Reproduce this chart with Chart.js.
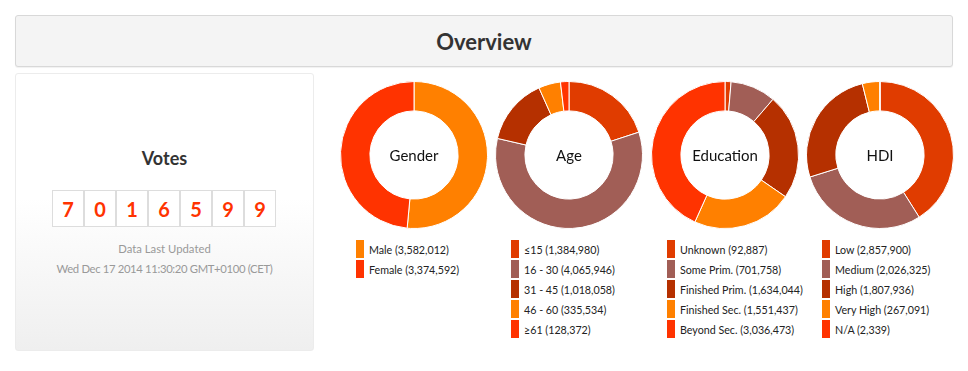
<!DOCTYPE html>
<html>
<head>
<meta charset="utf-8">
<script src="https://cdn.jsdelivr.net/npm/chart.js@4"></script>
<style>
  body { margin: 0; background: #fff; font-family: Lato, "Open Sans", sans-serif; width: 968px; height: 371px; overflow: hidden; position: relative; }
  #header { position: absolute; left: 15px; top: 15px; width: 936px; height: 50px; background: #f4f4f4; border: 1px solid #d8d8d8; border-radius: 3px; box-shadow: 0 1px 1px rgba(0,0,0,0.06); text-align: center; line-height: 52px; font-size: 22px; font-weight: bold; color: #333; }
  #votes { position: absolute; left: 15px; top: 73px; width: 297px; height: 276px; border: 1px solid #ececec; border-radius: 3px; background: linear-gradient(#fff 0%, #fff 45%, #efefef 100%); text-align: center; }
  #votes h2 { position: absolute; left: 0; right: 0; top: 73px; margin: 0; font-size: 18px; font-weight: bold; color: #333; }
  #digits { position: absolute; left: 36px; top: 116px; display: flex; }
  .digit { width: 30px; height: 35px; border: 1px solid #ddd; background: #fff; color: #ff3300; font-weight: bold; font-size: 20px; line-height: 36px; text-align: center; }
  .meta { position: absolute; left: 0; right: 0; font-size: 11.3px; color: #999; }
  .chartbox { position: absolute; width: 148px; height: 148px; top: 81px; }
  .legend { position: absolute; top: 240px; font-size: 10.7px; color: #222; }
  .legend div { height: 18px; margin-bottom: 2px; display: flex; align-items: center; white-space: nowrap; }
  .legend span { display: inline-block; width: 8px; height: 18px; margin-right: 5px; }
</style>
</head>
<body>
<div id="header">Overview</div>
<div id="votes">
  <h2>Votes</h2>
  <div id="digits"></div>
  <div class="meta" style="top:168px">Data Last Updated</div>
  <div class="meta" style="top:188px; letter-spacing:-0.35px">Wed Dec 17 2014 11:30:20 GMT+0100 (CET)</div>
</div>
<div id="charts"></div>
<script>
const voteCount = '7016599';

const titles = ['Gender', 'Age', 'Education', 'HDI'];

const genderLabels = ['Male', 'Female'];
const genderValues = [3582012, 3374592];

const ageLabels = ['\u226415', '16 - 30', '31 - 45', '46 - 60', '\u226561'];
const ageValues = [1384980, 4065946, 1018058, 335534, 128372];

const educationLabels = ['Unknown', 'Some Prim.', 'Finished Prim.', 'Finished Sec.', 'Beyond Sec.'];
const educationValues = [92887, 701758, 1634044, 1551437, 3036473];

const hdiLabels = ['Low', 'Medium', 'High', 'Very High', 'N/A'];
const hdiValues = [2857900, 2026325, 1807936, 267091, 2339];

const genderColors = ['#ff8000', '#ff3300'];
const palette = ['#e03c00', '#a15e56', '#b53000', '#ff8000', '#ff3300'];

const digits = document.getElementById('digits');
voteCount.split('').forEach(d => {
  const el = document.createElement('div');
  el.className = 'digit';
  el.textContent = d;
  digits.appendChild(el);
});

// draws the title in the hole of each doughnut
const centerText = {
  id: 'centerText',
  afterDraw(chart) {
    const ctx = chart.ctx;
    const arc = chart.getDatasetMeta(0).data[0];
    ctx.save();
    ctx.font = '15px Lato, sans-serif';
    ctx.fillStyle = '#111';
    ctx.textAlign = 'center';
    ctx.textBaseline = 'middle';
    ctx.fillText(chart.options.plugins.centerText.text, arc.x, arc.y + 1);
    ctx.restore();
  }
};

const sets = [
  [genderLabels, genderValues, genderColors],
  [ageLabels, ageValues, palette],
  [educationLabels, educationValues, palette],
  [hdiLabels, hdiValues, palette]
];

const centers = [414, 569, 725, 880];
const container = document.getElementById('charts');

sets.forEach(([labels, values, colors], i) => {
  const box = document.createElement('div');
  box.className = 'chartbox';
  box.style.left = (centers[i] - 74) + 'px';
  const cv = document.createElement('canvas');
  box.appendChild(cv);
  container.appendChild(box);

  new Chart(cv, {
    type: 'doughnut',
    data: {
      labels: labels,
      datasets: [{
        data: values,
        backgroundColor: colors,
        borderColor: '#fff',
        borderWidth: 1
      }]
    },
    options: {
      responsive: true,
      maintainAspectRatio: false,
      animation: false,
      cutout: '60%',
      layout: { padding: 0 },
      plugins: {
        legend: { display: false },
        tooltip: { enabled: false },
        centerText: { text: titles[i] }
      }
    },
    plugins: [centerText]
  });

  const leg = document.createElement('div');
  leg.className = 'legend';
  leg.style.left = (centers[i] - 58) + 'px';
  labels.forEach((l, j) => {
    const row = document.createElement('div');
    row.innerHTML = '<span style="background:' + colors[j] + '"></span>' + l + ' (' + values[j].toLocaleString('en-US') + ')';
    leg.appendChild(row);
  });
  container.appendChild(leg);
});
</script>
</body>
</html>
